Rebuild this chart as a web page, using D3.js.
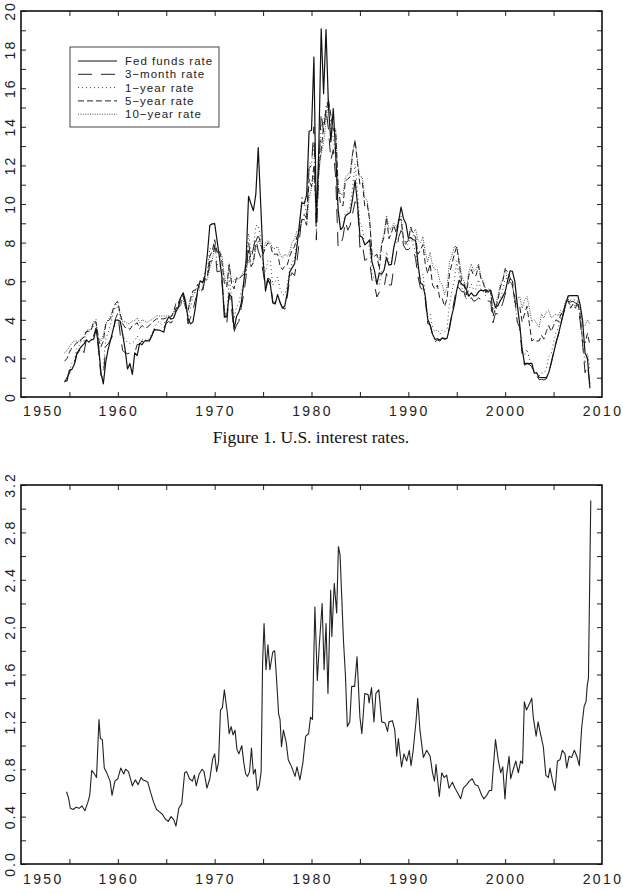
<!DOCTYPE html>
<html>
<head>
<meta charset="utf-8">
<script src="https://cdn.jsdelivr.net/npm/d3@7"></script>
<style>
  body { margin: 0; background: #fff; }
  svg text { font-family: "Liberation Sans", Arial, sans-serif; fill: #222; }
</style>
</head>
<body>
<svg id="chart" width="623" height="893"></svg>
<script>
// quarterly samples (Jan, Apr, Jul, Oct) starting July 1954
let firstQuarter = 1954.5;

let fedFunds = [
  0.80, 0.85,
  1.39, 1.43, 1.68, 2.24,   2.45, 2.62, 2.75, 2.96,   2.84, 2.96, 3.00, 3.50,
  2.72, 1.26, 0.68, 1.80,   2.48, 2.96, 3.47, 3.98,   3.99, 3.92, 3.23, 2.47,
  1.45, 1.73, 1.17, 2.29,   2.15, 2.78, 2.71, 2.90,   2.92, 2.90, 3.18, 3.49,
  3.48, 3.47, 3.42, 3.36,   3.90, 4.15, 4.04, 4.08,   4.42, 4.65, 5.17, 5.40,
  4.94, 4.05, 3.79, 3.88,   4.61, 5.55, 6.02, 5.92,   6.30, 7.41, 8.90, 8.97,
  8.98, 8.10, 7.21, 6.20,   4.14, 4.16, 5.31, 5.20,   3.50, 4.17, 4.40, 4.87,
  5.94, 7.12, 10.40, 10.01, 9.65, 10.51, 12.92, 10.06, 7.13, 5.49, 6.10, 5.82,
  4.87, 4.82, 5.31, 4.90,   4.61, 4.73, 5.42, 6.47,   6.70, 6.90, 7.81, 8.96,
  10.07, 10.01, 10.47, 13.77, 13.82, 17.61, 9.03, 12.81, 19.08, 15.72, 19.04, 15.08,
  13.22, 14.94, 12.59, 9.71, 8.68, 8.80, 9.37, 9.48,  9.56, 10.29, 11.23, 9.99,
  8.35, 8.27, 7.88, 7.99,   8.14, 6.99, 6.56, 5.85,   6.43, 6.36, 6.58, 7.22,
  6.83, 6.87, 7.75, 8.30,   9.12, 9.84, 9.24, 8.99,   8.23, 8.26, 8.15, 8.11,
  6.91, 5.91, 5.82, 5.21,   4.03, 3.73, 3.25, 2.99,   3.02, 2.96, 3.06, 2.99,
  3.05, 3.56, 4.26, 4.76,   5.53, 6.05, 5.85, 5.76,   5.56, 5.22, 5.40, 5.24,
  5.25, 5.45, 5.54, 5.50,   5.56, 5.45, 5.54, 5.07,   4.63, 4.74, 4.99, 5.20,
  5.45, 6.02, 6.54, 6.51,   5.98, 4.80, 3.77, 2.49,   1.73, 1.75, 1.73, 1.75,
  1.24, 1.26, 1.01, 1.01,   1.00, 1.00, 1.26, 1.76,   2.28, 2.79, 3.26, 3.78,
  4.29, 4.79, 5.24, 5.25,   5.25, 5.25, 5.26, 4.76,   3.94, 2.28, 2.01, 0.45
];

let threeMonth = [
  0.80, 0.99,
  1.23, 1.62, 1.62, 2.18,   2.37, 2.62, 2.30, 2.96,   3.10, 3.05, 3.16, 3.58,
  2.44, 1.13, 0.96, 2.63,   2.75, 2.96, 3.22, 4.05,   4.35, 3.23, 2.40, 2.30,
  2.24, 2.29, 2.24, 2.30,   2.72, 2.73, 2.92, 2.73,   2.91, 2.90, 3.14, 3.45,
  3.52, 3.47, 3.46, 3.57,   3.81, 3.91, 3.83, 4.02,   4.60, 4.62, 4.79, 5.34,
  4.72, 3.79, 4.11, 4.48,   5.02, 5.40, 5.36, 5.45,   6.14, 6.02, 7.02, 7.05,
  7.87, 6.48, 6.53, 5.93,   4.44, 3.77, 5.40, 4.54,   3.38, 3.72, 3.92, 4.66,
  5.31, 6.26, 8.01, 7.09,   7.72, 8.23, 7.56, 7.24,   6.49, 5.69, 6.16, 6.08,
  4.96, 4.86, 5.23, 4.92,   4.62, 4.54, 5.19, 6.16,   6.44, 6.29, 7.01, 8.13,
  9.35, 9.46, 9.24, 11.84,  12.00, 14.00, 8.13, 11.62, 14.72, 13.69, 14.95, 13.87,
  12.28, 12.82, 11.35, 7.75, 7.86, 8.28, 9.08, 8.64,  8.90, 9.52, 10.12, 9.97,
  7.76, 7.95, 7.08, 7.16,   7.04, 6.06, 5.83, 5.18,   5.43, 5.61, 5.69, 6.40,
  5.81, 5.80, 6.71, 7.35,   8.27, 8.63, 7.87, 7.64,   7.64, 7.76, 7.66, 7.17,
  6.22, 5.65, 5.57, 5.05,   3.80, 3.74, 3.21, 2.86,   2.96, 2.89, 3.06, 3.04,
  3.02, 3.66, 4.30, 5.04,   5.71, 5.65, 5.47, 5.44,   5.00, 4.95, 5.15, 4.96,
  5.01, 5.14, 5.05, 4.95,   5.04, 4.97, 4.96, 3.85,   4.34, 4.29, 4.55, 4.86,
  5.32, 5.66, 6.14, 6.02,   5.15, 3.87, 3.62, 2.20,   1.65, 1.72, 1.68, 1.58,
  1.17, 1.12, 0.90, 0.92,   0.88, 0.94, 1.27, 1.74,   2.33, 2.84, 3.22, 3.79,
  4.34, 4.60, 4.96, 4.92,   4.96, 4.87, 4.82, 3.90,   2.75, 1.26, 1.63, 0.67
];

let oneYear = [
  0.76, 1.04,
  1.32, 1.75, 1.84, 2.50,   2.66, 2.92, 2.90, 3.39,   3.55, 3.49, 3.65, 4.02,
  2.65, 1.36, 1.49, 3.00,   3.35, 3.75, 4.34, 4.75,   4.92, 4.05, 3.27, 3.00,
  2.81, 2.78, 2.81, 2.91,   3.17, 2.93, 3.02, 2.90,   3.00, 3.00, 3.28, 3.54,
  3.81, 3.91, 3.76, 3.82,   3.94, 4.03, 4.03, 4.33,   4.88, 4.93, 5.17, 5.37,
  4.71, 4.01, 4.64, 5.19,   5.44, 5.81, 5.59, 5.57,   6.48, 6.50, 7.71, 7.61,
  8.08, 6.86, 6.88, 6.36,   4.59, 4.13, 6.21, 5.07,   4.05, 4.64, 4.85, 5.50,
  5.89, 6.53, 8.48, 7.52,   7.63, 8.88, 8.89, 8.26,   6.88, 6.49, 7.07, 7.08,
  5.81, 5.99, 6.21, 5.62,   5.29, 5.31, 5.82, 6.62,   6.96, 7.20, 8.02, 8.64,
  10.41, 10.11, 9.39, 12.12, 12.06, 13.20, 8.35, 11.60, 14.08, 14.20, 15.04, 15.50,
  13.94, 13.43, 12.44, 9.59, 8.62, 8.81, 9.57, 9.64,  9.90, 10.90, 12.08, 10.65,
  9.02, 8.76, 7.86, 8.05,   7.73, 6.36, 6.12, 5.85,   5.78, 6.52, 6.64, 7.52,
  6.99, 6.92, 7.75, 7.98,   9.05, 9.38, 8.13, 7.84,   7.92, 8.28, 7.87, 7.55,
  6.64, 6.11, 6.36, 5.33,   4.15, 4.30, 3.60, 3.37,   3.50, 3.24, 3.48, 3.38,
  3.54, 4.82, 5.48, 6.04,   7.05, 6.30, 5.64, 5.59,   5.09, 5.54, 5.85, 5.55,
  5.61, 6.09, 5.56, 5.46,   5.24, 5.45, 5.36, 4.18,   4.51, 4.69, 5.08, 5.55,
  6.12, 6.15, 6.11, 6.01,   4.81, 3.98, 3.62, 2.33,   2.16, 2.48, 1.96, 1.61,
  1.36, 1.24, 1.09, 1.25,   1.24, 1.43, 2.10, 2.23,   2.86, 3.32, 3.62, 4.18,
  4.45, 4.90, 5.22, 5.01,   5.06, 5.01, 4.96, 4.20,   2.71, 1.74, 2.28, 1.42
];

let fiveYear = [
  1.85, 2.00,
  2.32, 2.55, 2.65, 2.82,   2.80, 3.00, 3.10, 3.40,   3.40, 3.45, 3.90, 3.90,
  3.00, 2.60, 2.90, 3.75,   3.95, 4.05, 4.55, 4.85,   4.95, 4.30, 3.80, 3.60,
  3.60, 3.50, 3.70, 3.75,   3.85, 3.55, 3.70, 3.60,   3.60, 3.70, 3.85, 3.95,
  4.05, 4.05, 4.05, 4.05,   4.10, 4.15, 4.15, 4.40,   4.85, 4.85, 5.20, 5.25,
  4.65, 4.45, 5.10, 5.50,   5.55, 5.85, 5.60, 5.55,   6.25, 6.25, 7.30, 7.55,
  8.15, 7.50, 7.60, 7.00,   5.90, 5.70, 6.85, 5.85,   5.60, 6.15, 6.10, 6.25,
  6.35, 6.75, 7.60, 6.75,   6.95, 8.05, 8.40, 7.95,   7.40, 7.75, 8.00, 7.90,
  7.40, 7.40, 7.40, 6.80,   6.60, 6.80, 6.85, 7.30,   7.60, 7.80, 8.30, 8.60,
  9.20, 9.20, 8.90, 11.30,  10.90, 12.00, 9.50, 11.90, 12.80, 14.00, 14.80, 15.40,
  14.60, 13.80, 13.80, 10.90, 10.00, 9.90, 11.20, 11.30, 11.40, 12.60, 13.30, 12.10,
  11.00, 11.10, 9.90, 10.00, 9.20, 7.40, 7.30, 7.40,   6.60, 7.90, 8.30, 9.30,
  8.20, 8.50, 8.90, 8.50,   9.20, 9.20, 8.20, 8.00,   8.10, 8.80, 8.40, 8.30,
  7.40, 7.60, 7.90, 6.90,   6.40, 6.90, 5.80, 5.60,   5.80, 5.10, 5.10, 4.70,
  5.10, 6.40, 6.90, 7.40,   7.80, 6.90, 6.00, 5.90,   5.30, 6.30, 6.60, 6.30,
  6.30, 6.80, 6.10, 5.90,   5.40, 5.60, 5.50, 4.20,   4.60, 5.00, 5.70, 6.00,
  6.60, 6.50, 6.20, 5.80,   4.90, 4.80, 4.70, 3.90,   4.30, 4.70, 3.80, 2.90,
  3.00, 2.90, 2.90, 3.20,   3.00, 3.40, 3.70, 3.40,   3.70, 4.00, 3.90, 4.30,
  4.40, 4.90, 5.00, 4.60,   4.80, 4.60, 4.90, 4.20,   2.90, 2.80, 3.30, 2.70
];

let tenYear = [
  2.30, 2.40,
  2.60, 2.80, 2.90, 2.90,   2.90, 3.05, 3.10, 3.40,   3.45, 3.50, 3.90, 3.80,
  3.10, 2.90, 3.20, 3.80,   4.00, 4.20, 4.50, 4.60,   4.70, 4.30, 3.90, 3.90,
  3.80, 3.80, 3.95, 3.95,   4.10, 3.85, 4.00, 3.95,   3.85, 3.95, 4.00, 4.10,
  4.20, 4.20, 4.20, 4.20,   4.20, 4.20, 4.20, 4.35,   4.60, 4.70, 5.00, 5.00,
  4.60, 4.60, 5.00, 5.30,   5.50, 5.60, 5.50, 5.50,   6.05, 6.10, 6.70, 7.10,
  7.80, 7.50, 7.50, 7.35,   6.25, 5.80, 6.90, 6.00,   6.00, 6.20, 6.10, 6.30,
  6.50, 6.50, 7.10, 6.80,   7.00, 7.70, 8.10, 7.90,   7.50, 8.00, 8.10, 8.00,
  7.70, 7.70, 7.80, 7.40,   7.20, 7.40, 7.30, 7.50,   8.00, 8.20, 8.60, 8.60,
  9.10, 9.20, 8.90, 10.30,  10.80, 11.50, 10.20, 11.60, 12.60, 13.20, 14.30, 15.30,
  14.60, 13.90, 13.90, 10.90, 10.50, 10.50, 11.40, 11.50, 11.70, 12.70, 13.30, 12.20,
  11.40, 11.40, 10.30, 10.20, 9.20, 7.30, 7.30, 7.40,  7.10, 8.00, 8.50, 9.40,
  8.70, 8.70, 9.00, 8.80,   9.10, 9.20, 8.10, 7.90,   8.20, 8.80, 8.50, 8.70,
  8.10, 8.00, 8.30, 7.50,   7.00, 7.50, 6.80, 6.60,   6.60, 6.00, 5.80, 5.30,
  5.70, 7.00, 7.30, 7.80,   7.80, 7.10, 6.30, 6.00,   5.60, 6.50, 6.90, 6.50,
  6.60, 6.90, 6.20, 6.00,   5.50, 5.60, 5.50, 4.50,   4.70, 5.20, 5.80, 6.10,
  6.70, 6.00, 6.00, 5.70,   5.20, 5.10, 5.20, 4.60,   5.00, 5.20, 4.60, 3.90,
  4.00, 3.80, 3.60, 4.30,   4.10, 4.40, 4.50, 4.10,   4.20, 4.30, 4.20, 4.50,
  4.40, 5.00, 5.10, 4.70,   4.80, 4.70, 5.00, 4.50,   3.70, 3.70, 4.00, 3.80
];

let seriesNames = ["Fed funds rate", "3\u2212month rate", "1\u2212year rate", "5\u2212year rate", "10\u2212year rate"];

// lower panel, values at irregular dates
let volYears = [
  1954.7, 1954.9, 1955.1, 1955.4, 1955.7, 1956.0, 1956.3, 1956.6, 1956.9, 1957.1,
  1957.3, 1957.5, 1957.8, 1958.05, 1958.2, 1958.4, 1958.6, 1958.8, 1959.0, 1959.2,
  1959.4, 1959.7, 1960.0, 1960.3, 1960.6, 1960.8, 1961.1, 1961.3, 1961.5, 1961.8,
  1962.1, 1962.4, 1962.6, 1962.9, 1963.1, 1963.4, 1963.7, 1964.0, 1964.3, 1964.6,
  1964.9, 1965.2, 1965.5, 1965.8, 1966.0, 1966.3, 1966.6, 1966.9, 1967.1, 1967.4,
  1967.7, 1967.9, 1968.1, 1968.4, 1968.7, 1968.9, 1969.2, 1969.5, 1969.8, 1970.0,
  1970.2, 1970.4, 1970.6, 1970.8, 1971.0, 1971.3, 1971.5, 1971.7, 1971.9, 1972.1,
  1972.3, 1972.5, 1972.8, 1973.0, 1973.2, 1973.4, 1973.6, 1973.8, 1974.0, 1974.2,
  1974.4, 1974.6, 1974.8, 1974.95, 1975.1, 1975.3, 1975.5, 1975.7, 1976.0, 1976.2,
  1976.4, 1976.6, 1976.75, 1976.9, 1977.1, 1977.4, 1977.6, 1977.95, 1978.3, 1978.5,
  1978.8, 1979.1, 1979.4, 1979.7, 1979.9, 1980.1, 1980.35, 1980.6, 1980.8, 1981.1,
  1981.3, 1981.5, 1981.7, 1981.98, 1982.1, 1982.35, 1982.6, 1982.78, 1982.95, 1983.3,
  1983.5, 1983.7, 1983.95, 1984.15, 1984.45, 1984.7, 1985.0, 1985.2, 1985.5, 1985.85,
  1985.95, 1986.2, 1986.45, 1986.65, 1986.95, 1987.25, 1987.6, 1987.85, 1988.0, 1988.35,
  1988.6, 1988.8, 1988.97, 1989.3, 1989.55, 1989.83, 1990.1, 1990.28, 1990.5, 1990.8,
  1990.97, 1991.2, 1991.55, 1991.9, 1992.25, 1992.5, 1992.7, 1992.86, 1993.2, 1993.45,
  1993.7, 1993.96, 1994.2, 1994.55, 1994.82, 1995.1, 1995.4, 1995.68, 1996.03, 1996.3,
  1996.6, 1996.9, 1997.2, 1997.58, 1997.8, 1998.1, 1998.37, 1998.6, 1998.78, 1999.0,
  1999.3, 1999.54, 1999.75, 1999.98, 2000.15, 2000.4, 2000.57, 2000.84, 2001.1, 2001.36,
  2001.6, 2001.8, 2001.98, 2002.2, 2002.5, 2002.75, 2002.9, 2003.2, 2003.4, 2003.67,
  2003.94, 2004.2, 2004.46, 2004.63, 2004.9, 2005.15, 2005.4, 2005.66, 2005.9, 2006.18,
  2006.36, 2006.6, 2006.87, 2007.14, 2007.4, 2007.66, 2007.9, 2008.15, 2008.35, 2008.48,
  2008.6, 2008.84
];
let volValues = [
  0.61, 0.56, 0.47, 0.46, 0.48, 0.47, 0.49, 0.45, 0.52, 0.58,
  0.79, 0.77, 0.73, 1.22, 1.06, 1.05, 0.81, 0.78, 0.74, 0.70,
  0.58, 0.70, 0.72, 0.81, 0.76, 0.80, 0.78, 0.72, 0.66, 0.71,
  0.67, 0.73, 0.71, 0.70, 0.69, 0.60, 0.52, 0.46, 0.44, 0.42,
  0.38, 0.36, 0.40, 0.37, 0.32, 0.47, 0.51, 0.77, 0.78, 0.72,
  0.70, 0.75, 0.66, 0.76, 0.80, 0.78, 0.64, 0.72, 0.89, 0.93,
  0.78, 0.86, 1.30, 1.32, 1.47, 1.28, 1.10, 1.16, 1.09, 1.13,
  0.97, 0.93, 1.00, 0.86, 0.76, 0.74, 0.78, 0.98, 0.76, 0.80,
  0.62, 0.66, 0.78, 1.70, 2.03, 1.64, 1.85, 1.64, 1.79, 1.80,
  1.55, 1.27, 1.22, 0.99, 1.13, 1.02, 0.88, 0.82, 0.74, 0.82,
  0.71, 0.85, 1.08, 1.10, 1.24, 1.22, 2.17, 1.55, 1.84, 2.20,
  1.64, 2.03, 1.44, 2.31, 1.92, 2.37, 2.12, 2.68, 2.61, 1.89,
  1.60, 1.16, 1.20, 1.50, 1.50, 1.75, 1.24, 1.10, 1.44, 1.43,
  1.36, 1.49, 1.20, 1.44, 1.47, 1.20, 1.19, 1.12, 1.20, 1.21,
  1.13, 0.91, 1.06, 0.82, 0.93, 0.87, 0.96, 0.83, 0.96, 1.21,
  1.40, 1.13, 0.90, 0.96, 0.91, 0.77, 0.70, 0.84, 0.57, 0.77,
  0.73, 0.75, 0.64, 0.69, 0.64, 0.60, 0.55, 0.64, 0.67, 0.70,
  0.72, 0.67, 0.66, 0.58, 0.55, 0.58, 0.62, 0.62, 0.82, 1.05,
  0.87, 0.77, 0.82, 0.55, 0.75, 0.91, 0.72, 0.80, 0.87, 0.77,
  0.87, 0.85, 1.37, 1.30, 1.35, 1.40, 1.24, 1.08, 1.20, 1.09,
  0.99, 0.75, 0.73, 0.81, 0.70, 0.62, 0.87, 0.88, 0.96, 0.93,
  0.81, 0.91, 0.90, 0.96, 0.91, 0.83, 1.15, 1.33, 1.37, 1.51,
  1.57, 3.07
];

let yearTicks = [1950, 1960, 1970, 1980, 1990, 2000, 2010];
let rateTicks = [0, 2, 4, 6, 8, 10, 12, 14, 16, 18, 20];
let volTicks = ["0.0", "0.4", "0.8", "1.2", "1.6", "2.0", "2.4", "2.8", "3.2"];
let caption = "Figure 1. U.S. interest rates.";

let svg = d3.select('#chart');

let LEFT = 21, RIGHT = 602;
let x = d3.scaleLinear().domain([1950, 2010]).range([LEFT, RIGHT]);
let yTop = d3.scaleLinear().domain([0, 20]).range([397, 11]);
let yBot = d3.scaleLinear().domain([0, 3.2]).range([864, 485]);

let quarterYears = fedFunds.map(function (d, i) { return firstQuarter + i * 0.25; });

let dashes = ["", "14,9", "1,3", "6,3", "1,1.4"];
let widths = [1.2, 1, 1, 1, 1];
let colors = ["#111", "#222", "#444", "#222", "#444"];

// draws frame, inward ticks and labels for one panel
let drawPanel = function (y, minorStep, yLabels, labelY) {
  let top = y.range()[1], bottom = y.range()[0];
  let g = svg.append('g');
  let yMinor = d3.range(y.domain()[0], y.domain()[1] + 1e-9, minorStep);
  let xMinor = d3.range(1955, 2010, 5);

  g.append('g').attr('transform', 'translate(' + LEFT + ',0)')
    .call(d3.axisLeft(y).tickValues(yMinor).tickSize(-5).tickFormat(''));
  g.append('g').attr('transform', 'translate(' + RIGHT + ',0)')
    .call(d3.axisRight(y).tickValues(yMinor).tickSize(-5).tickFormat(''));
  g.append('g').attr('transform', 'translate(0,' + bottom + ')')
    .call(d3.axisBottom(x).tickValues(xMinor).tickSize(-5).tickFormat(''));
  g.append('g').attr('transform', 'translate(0,' + top + ')')
    .call(d3.axisTop(x).tickValues(xMinor).tickSize(-5).tickFormat(''));
  g.selectAll('.domain').remove();
  g.selectAll('.tick line').attr('stroke', '#222').attr('stroke-width', 1);

  g.append('rect')
    .attr('x', LEFT).attr('y', top)
    .attr('width', RIGHT - LEFT).attr('height', bottom - top)
    .attr('fill', 'none').attr('stroke', '#111').attr('stroke-width', 1.6);

  g.selectAll('.ylab').data(yLabels).enter().append('text')
    .attr('class', 'ylab')
    .attr('transform', function (d) { return 'translate(10,' + y(+d) + ') rotate(-90)'; })
    .attr('text-anchor', 'middle').attr('dy', '0.36em')
    .style('font-size', '14px').style('letter-spacing', '2px')
    .text(function (d) { return d; });

  g.selectAll('.xlab').data(yearTicks).enter().append('text')
    .attr('class', 'xlab')
    .attr('x', function (d, i) { return i === 0 ? LEFT + 2 : x(d) + 1; })
    .attr('y', labelY)
    .attr('text-anchor', function (d, i) { return i === 0 ? 'start' : 'middle'; })
    .style('font-size', '14px').style('letter-spacing', '2.4px')
    .text(function (d) { return d; });
};

drawPanel(yTop, 1, rateTicks, 416);
drawPanel(yBot, 0.2, volTicks, 884);

// upper panel lines
let rateLine = d3.line()
  .x(function (d) { return x(d[0]); })
  .y(function (d) { return yTop(d[1]); });

let rateSeries = [fedFunds, threeMonth, oneYear, fiveYear, tenYear];
let linesG = svg.append('g').attr('fill', 'none');
rateSeries.slice().reverse().forEach(function (vals, k) {
  let i = rateSeries.length - 1 - k;
  linesG.append('path')
    .datum(vals.map(function (v, j) { return [quarterYears[j], v]; }))
    .attr('d', rateLine)
    .attr('stroke', colors[i])
    .attr('stroke-width', widths[i])
    .attr('stroke-dasharray', dashes[i] || null)
    .attr('stroke-linejoin', 'round');
});

// legend
let legend = svg.append('g');
legend.append('rect')
  .attr('x', 70).attr('y', 47).attr('width', 149).attr('height', 80)
  .attr('fill', '#fff').attr('stroke', '#444').attr('stroke-width', 1);
seriesNames.forEach(function (name, i) {
  let ly = 61 + i * 13.3;
  legend.append('line')
    .attr('x1', 78).attr('x2', 117).attr('y1', ly).attr('y2', ly)
    .attr('stroke', colors[i]).attr('stroke-width', widths[i])
    .attr('stroke-dasharray', dashes[i] || null);
  legend.append('text')
    .attr('x', 125).attr('y', ly + 4)
    .style('font-size', '11.5px').style('letter-spacing', '1px')
    .text(name);
});

svg.append('text')
  .attr('x', 311).attr('y', 443)
  .attr('text-anchor', 'middle')
  .style('font-family', '"Liberation Serif", "Times New Roman", serif')
  .style('font-size', '17.5px')
  .style('fill', '#111')
  .text(caption);

// lower panel line
let volLine = d3.line()
  .x(function (d) { return x(d[0]); })
  .y(function (d) { return yBot(d[1]); });

svg.append('path')
  .datum(volYears.map(function (t, i) { return [t, volValues[i]]; }))
  .attr('d', volLine)
  .attr('fill', 'none')
  .attr('stroke', '#222')
  .attr('stroke-width', 1.1)
  .attr('stroke-linejoin', 'round');
</script>
</body>
</html>
